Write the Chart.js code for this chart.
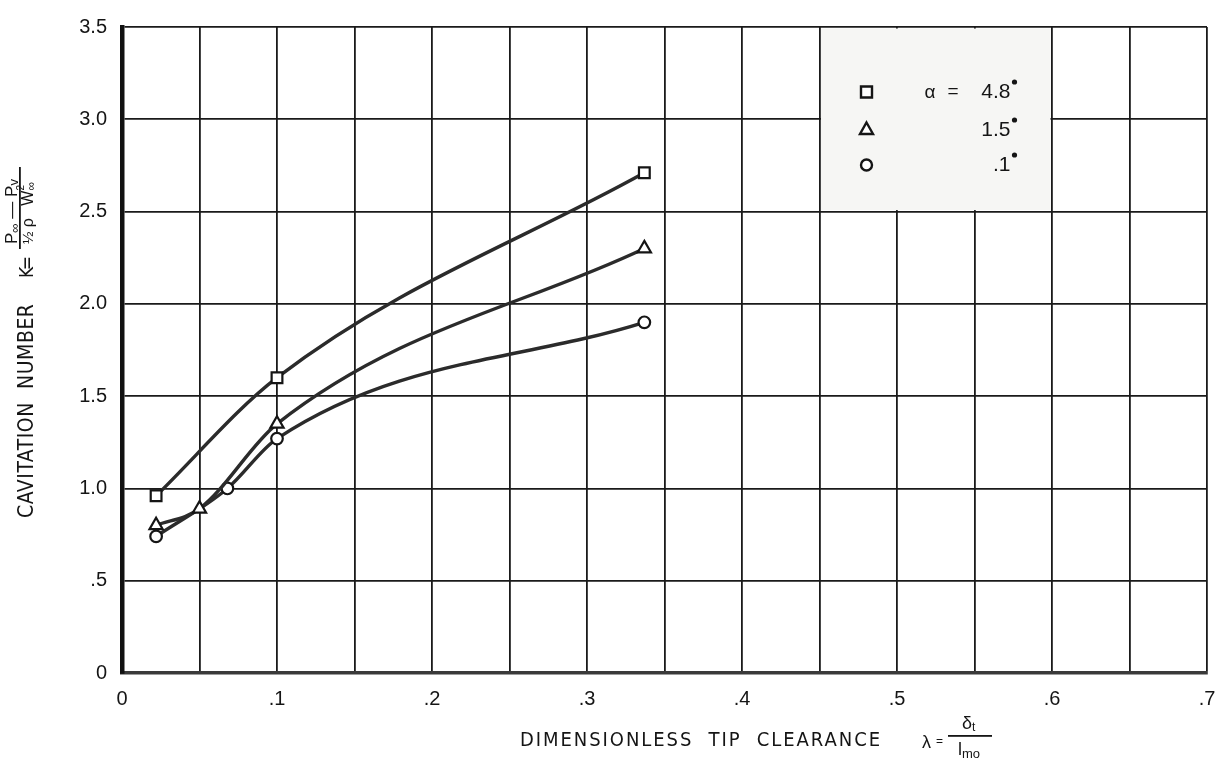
<!DOCTYPE html>
<html>
<head>
<meta charset="utf-8">
<script src="https://cdn.jsdelivr.net/npm/chart.js@4.4.1/dist/chart.umd.min.js"></script>
<style>
  html, body { margin: 0; padding: 0; background: #fff; }
  #wrap { width: 1221px; height: 761px; }
</style>
</head>
<body>
<div id="wrap"><canvas id="myChart" width="1221" height="761"></canvas></div>
<script>
// tip clearance (lambda) and cavitation number K for each blade angle
const alpha48Lambda = [0.022, 0.1, 0.337];
const alpha48K = [0.96, 1.60, 2.71];
const alpha15Lambda = [0.022, 0.05, 0.1, 0.337];
const alpha15K = [0.80, 0.89, 1.35, 2.30];
const alpha01Lambda = [0.022, 0.068, 0.1, 0.337];
const alpha01K = [0.74, 1.00, 1.27, 1.90];

const seriesAngles = ['4.8', '1.5', '.1'];
const seriesMarkers = ['rect', 'triangle', 'circle'];

const xTickLabels = ['0', '.1', '.2', '.3', '.4', '.5', '.6', '.7'];
const yTickLabels = ['0', '.5', '1.0', '1.5', '2.0', '2.5', '3.0', '3.5'];

const FONT = '"Liberation Sans", Arial, sans-serif';
const NARROW = '"Liberation Sans Narrow", "DejaVu Sans Condensed", sans-serif';
const INK = '#151515';

const toPoints = (xs, ys) => xs.map((x, i) => ({ x: x, y: ys[i] }));

// spread text over a given width with letter spacing
const fitText = (ctx, text, x, y, width) => {
    ctx.letterSpacing = '0px';
    const w = ctx.measureText(text).width;
    const sp = text.length > 1 ? (width - w) / (text.length - 1) : 0;
    ctx.letterSpacing = sp + 'px';
    ctx.textAlign = 'left';
    ctx.fillText(text, x, y);
    ctx.letterSpacing = '0px';
};

// formula pieces {t, size, dy, back}, drawn left to right
const drawRuns = (ctx, runs, x, y) => {
    let last = x;
    runs.forEach((r) => {
        ctx.font = r.size + 'px ' + FONT;
        ctx.fillText(r.t, r.back ? last : x, y + (r.dy || 0));
        if (!r.back) {
            last = x;
            x += ctx.measureText(r.t).width;
        }
    });
};

const drawMarker = (ctx, style, x, y) => {
    ctx.beginPath();
    if (style === 'rect') {
        ctx.rect(x - 5.5, y - 5.5, 11, 11);
    } else if (style === 'triangle') {
        ctx.moveTo(x, y - 7.5);
        ctx.lineTo(x + 6.5, y + 4);
        ctx.lineTo(x - 6.5, y + 4);
        ctx.closePath();
    } else {
        ctx.arc(x, y, 5.5, 0, Math.PI * 2);
    }
    ctx.fillStyle = '#fff';
    ctx.fill();
    ctx.lineWidth = 2.4;
    ctx.strokeStyle = INK;
    ctx.stroke();
};

// legend box sitting on the grid, grid lines blanked inside it
const legendBox = {
    id: 'legendBox',
    beforeDatasetsDraw(chart) {
        const ctx = chart.ctx;
        const xs = chart.scales.x;
        const ys = chart.scales.y;
        const left = xs.getPixelForValue(0.45);
        const right = xs.getPixelForValue(0.6);
        const top = ys.getPixelForValue(3.5);
        const bottom = ys.getPixelForValue(2.5);
        ctx.save();
        ctx.fillStyle = '#f6f6f4';
        ctx.fillRect(left + 1.5, top + 1.5, right - left - 3, bottom - top - 3);

        const rows = [top + 65, top + 103, top + 138];
        ctx.textBaseline = 'middle';
        rows.forEach((ry, i) => {
            drawMarker(ctx, seriesMarkers[i], left + 47, ry);
            ctx.fillStyle = INK;
            ctx.font = '21px ' + FONT;
            ctx.textAlign = 'right';
            ctx.fillText(seriesAngles[i], left + 191, ry);
            ctx.beginPath();
            ctx.arc(left + 195, ry - 10, 2.6, 0, Math.PI * 2);
            ctx.fill();
        });
        ctx.font = '19px ' + FONT;
        ctx.textAlign = 'left';
        ctx.fillText('α', left + 105, rows[0] + 1);
        ctx.fillText('=', left + 128, rows[0]);
        ctx.restore();
    }
};

// axis titles with the formulas
const axisTitles = {
    id: 'axisTitles',
    afterDraw(chart) {
        const ctx = chart.ctx;
        ctx.save();
        ctx.fillStyle = INK;
        ctx.textBaseline = 'alphabetic';

        // x title
        ctx.font = '20px ' + NARROW;
        fitText(ctx, 'DIMENSIONLESS  TIP  CLEARANCE', 520, 746, 360);
        ctx.font = '18px ' + FONT;
        ctx.textAlign = 'left';
        ctx.fillText('λ', 922, 748);
        ctx.font = '12px ' + FONT;
        ctx.fillText('=', 936, 745);
        ctx.fillRect(948, 735, 44, 1.8);
        drawRuns(ctx, [{ t: 'δ', size: 18 }, { t: 't', size: 12, dy: 2 }], 962, 729);
        drawRuns(ctx, [{ t: 'l', size: 18 }, { t: 'mo', size: 13, dy: 3 }], 958, 755);

        // y title, rotated
        ctx.translate(33, 0);
        ctx.rotate(-Math.PI / 2);
        ctx.font = '21px ' + NARROW;
        fitText(ctx, 'CAVITATION  NUMBER', -518, 0, 214);
        ctx.font = '19px ' + NARROW;
        fitText(ctx, 'K=', -278, 0, 22);
        ctx.textAlign = 'left';
        ctx.fillRect(-249, -14, 82, 1.8);
        drawRuns(ctx, [
            { t: 'P', size: 17 }, { t: '∞', size: 13, dy: 2 },
            { t: ' — ', size: 17 },
            { t: 'P', size: 17 }, { t: 'v', size: 13, dy: 1 }
        ], -244, -16.5);
        drawRuns(ctx, [
            { t: '½', size: 15 }, { t: ' ', size: 15 }, { t: 'ρ', size: 16 }, { t: '   ', size: 15 },
            { t: 'W', size: 16 }, { t: '∞', size: 12, dy: 2 }, { t: '2', size: 10, dy: -9, back: true }
        ], -244, 0);
        ctx.restore();
    }
};

const seriesStyle = (style) => ({
    borderColor: '#2b2b2b',
    borderWidth: 3.4,
    pointStyle: style,
    pointRadius: style === 'circle' ? 5.8 : 7.6,
    pointBackgroundColor: '#fff',
    pointBorderColor: INK,
    pointBorderWidth: 2.2,
    cubicInterpolationMode: 'monotone',
    fill: false
});

const renderChart = () => {
    const ctx = document.getElementById('myChart').getContext('2d');

    new Chart(ctx, {
        type: 'line',
        data: {
            datasets: [
                { label: 'α = 4.8°', data: toPoints(alpha48Lambda, alpha48K), ...seriesStyle('rect') },
                { label: '1.5°', data: toPoints(alpha15Lambda, alpha15K), ...seriesStyle('triangle') },
                { label: '.1°', data: toPoints(alpha01Lambda, alpha01K), ...seriesStyle('circle') }
            ]
        },
        options: {
            responsive: false,
            animation: false,
            devicePixelRatio: 1,
            layout: { padding: { top: 15, right: 14, left: 0, bottom: 0 } },
            plugins: {
                legend: { display: false },
                tooltip: { enabled: false }
            },
            scales: {
                x: {
                    type: 'linear',
                    min: 0,
                    max: 0.7,
                    afterFit: (scale) => {
                        scale.height = 88;
                        scale.paddingLeft = 0;
                        scale.paddingRight = 0;
                    },
                    ticks: {
                        stepSize: 0.05,
                        autoSkip: false,
                        maxRotation: 0,
                        padding: 14,
                        color: INK,
                        font: { family: FONT, size: 20 },
                        callback: (v) => {
                            const i = Math.round(v * 20);
                            return i % 2 === 0 ? xTickLabels[i / 2] : '';
                        }
                    },
                    grid: { color: '#1a1a1a', lineWidth: 1.8, drawTicks: false },
                    border: { color: '#3a3a3a', width: 3.5 }
                },
                y: {
                    min: 0,
                    max: 3.5,
                    afterFit: (scale) => {
                        scale.width = 122;
                    },
                    ticks: {
                        stepSize: 0.5,
                        padding: 15,
                        color: INK,
                        font: { family: FONT, size: 20 },
                        callback: (v) => yTickLabels[Math.round(v * 2)]
                    },
                    grid: { color: '#1a1a1a', lineWidth: 1.8, drawTicks: false },
                    border: { color: '#111', width: 4.5 }
                }
            }
        },
        plugins: [legendBox, axisTitles]
    });
};

window.addEventListener('load', renderChart);
</script>
</body>
</html>
